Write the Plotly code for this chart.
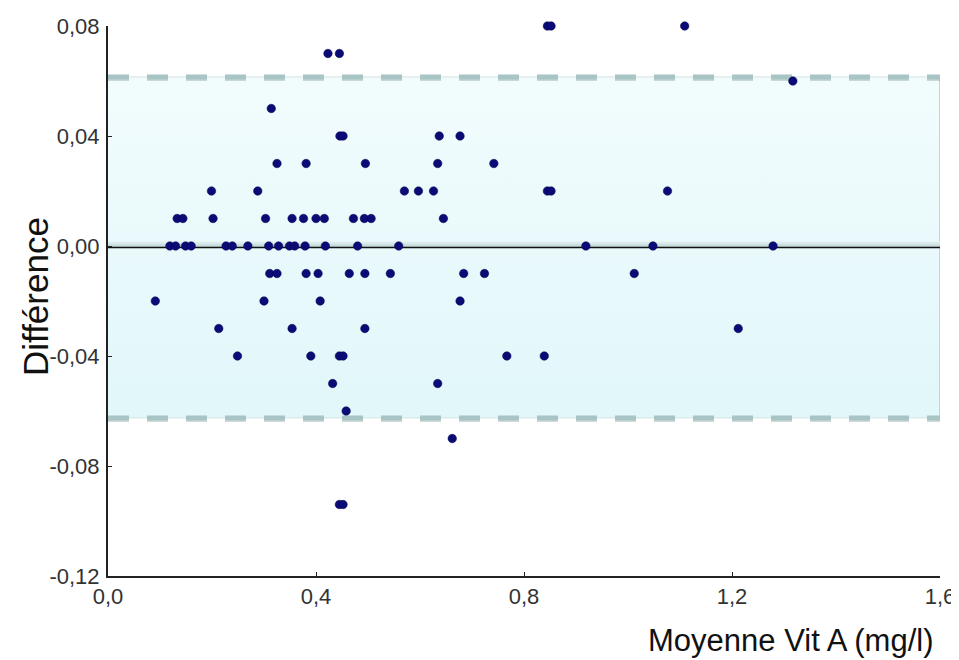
import plotly.graph_objects as go

# Bland-Altman data: mean (x) and difference (y)
mean_vals = [
    0.423, 0.445,                      # 0.07
    0.314,                             # 0.05
    0.446, 0.452,                      # 0.04
    0.325, 0.381, 0.495,               # 0.03
    0.199, 0.288, 0.570, 0.597,        # 0.02
    0.133, 0.144, 0.202, 0.303, 0.354, 0.376, 0.400, 0.416, 0.472, 0.493, 0.506,  # 0.01
    0.119, 0.130, 0.149, 0.160, 0.227, 0.239, 0.269, 0.309, 0.328, 0.349, 0.359,
    0.379, 0.418, 0.480, 0.559,        # 0.00
    0.845, 0.852, 1.109,               # 0.08
    0.637, 0.677,                      # 0.04
    0.634, 0.742,                      # 0.03
    0.626, 0.845, 0.852, 1.076,        # 0.02
    0.645,                             # 0.01
    0.919, 1.048, 1.279,               # 0.00
    1.317,                             # 0.06
    0.311, 0.325, 0.381, 0.404, 0.464, 0.494, 0.543, 0.684, 0.724, 1.012,  # -0.01
    0.091, 0.300, 0.408, 0.677,        # -0.02
    0.213, 0.354, 0.494, 1.212,        # -0.03
    0.249, 0.390, 0.445, 0.452, 0.767, 0.839,  # -0.04
    0.432, 0.634,                      # -0.05
    0.458,                             # -0.06
    0.662,                             # -0.07
    0.445, 0.452,                      # -0.094
]
diff_vals = (
    [0.07] * 2 + [0.05] + [0.04] * 2 + [0.03] * 3 + [0.02] * 4 + [0.01] * 11 + [0.0] * 15
    + [0.08] * 3 + [0.04] * 2 + [0.03] * 2 + [0.02] * 4 + [0.01] + [0.0] * 3 + [0.06]
    + [-0.01] * 10 + [-0.02] * 4 + [-0.03] * 4 + [-0.04] * 6 + [-0.05] * 2 + [-0.06]
    + [-0.07] + [-0.094] * 2
)

mean_diff = -0.0005
loa_upper = 0.0615
loa_lower = -0.0625

x_range = [0.0, 1.6]
y_range = [-0.12, 0.08]
x_ticks = [0.0, 0.4, 0.8, 1.2, 1.6]
x_tick_labels = ["0,0", "0,4", "0,8", "1,2", "1,6"]
y_ticks = [-0.12, -0.08, -0.04, 0.0, 0.04, 0.08]
y_tick_labels = ["-0,12", "-0,08", "-0,04", "0,00", "0,04", "0,08"]

FONT = "Liberation Sans, Arial"

fig = go.Figure()

# shaded agreement band
fig.add_trace(go.Scatter(
    x=[x_range[0], x_range[1], x_range[1], x_range[0], x_range[0]],
    y=[loa_lower, loa_lower, loa_upper, loa_upper, loa_lower],
    mode="lines", fill="toself",
    line=dict(width=0, color="rgba(0,0,0,0)"),
    fillgradient=dict(type="vertical",
                      colorscale=[[0, "#e1f7fa"], [1, "#f2fcfd"]]),
    hoverinfo="skip", showlegend=False,
))
# right border of band
fig.add_trace(go.Scatter(
    x=[x_range[1], x_range[1]], y=[loa_lower, loa_upper], mode="lines",
    line=dict(color="#c6d4d4", width=2), hoverinfo="skip", showlegend=False,
))
# halo over mean line
fig.add_trace(go.Scatter(
    x=[x_range[0], x_range[1], x_range[1], x_range[0], x_range[0]],
    y=[mean_diff, mean_diff, mean_diff + 0.0022, mean_diff + 0.0022, mean_diff],
    mode="lines", fill="toself", line=dict(width=0, color="rgba(0,0,0,0)"),
    fillgradient=dict(type="vertical",
                      colorscale=[[0, "#b9d2d2"], [1, "#e6f4f5"]]),
    hoverinfo="skip", showlegend=False,
))
# limits of agreement: shadow + thin light line + thick dashes
for lv in (loa_upper, loa_lower):
    fig.add_trace(go.Scatter(
        x=x_range, y=[lv - 0.0006, lv - 0.0006], mode="lines",
        line=dict(color="rgba(120,150,150,0.35)", width=5, dash="21px,18px"),
        hoverinfo="skip", showlegend=False,
    ))
    fig.add_trace(go.Scatter(
        x=x_range, y=[lv, lv], mode="lines",
        line=dict(color="#d2e4e4", width=1),
        hoverinfo="skip", showlegend=False,
    ))
    fig.add_trace(go.Scatter(
        x=x_range, y=[lv, lv], mode="lines",
        line=dict(color="#a8c4c4", width=5, dash="21px,18px"),
        hoverinfo="skip", showlegend=False,
    ))
# mean line
fig.add_trace(go.Scatter(
    x=x_range, y=[mean_diff, mean_diff], mode="lines",
    line=dict(color="#111111", width=1.5),
    hoverinfo="skip", showlegend=False,
))
# data points
fig.add_trace(go.Scatter(
    x=mean_vals, y=diff_vals, mode="markers",
    marker=dict(size=8.5, color="#0b0b78", line=dict(color="#05054a", width=0.5)),
    cliponaxis=False, showlegend=False,
))

fig.update_xaxes(
    range=x_range, tickvals=x_ticks, ticktext=x_tick_labels, automargin=False,
    showgrid=False, zeroline=False, showline=True, linecolor="#222222", linewidth=2,
    ticks="inside", ticklen=4, tickcolor="#222222",
    tickfont=dict(family=FONT, size=22, color="#333333"),
)
fig.update_yaxes(
    range=y_range, tickvals=y_ticks, ticktext=y_tick_labels, automargin=False,
    showgrid=False, zeroline=False, showline=True, linecolor="#222222", linewidth=2,
    ticks="inside", ticklen=4, tickcolor="#222222", ticklabelstandoff=2,
    tickfont=dict(family=FONT, size=22, color="#333333"),
)

fig.add_annotation(
    text="Moyenne Vit A (mg/l)", xref="paper", yref="paper",
    x=1.0, y=0, xanchor="right", yanchor="middle", xshift=-5, yshift=-64,
    showarrow=False, font=dict(family=FONT, size=31, color="#111111"),
)
fig.add_annotation(
    text="Différence", xref="paper", yref="paper",
    x=0, y=0.5, xanchor="center", yanchor="middle", xshift=-73, yshift=4,
    textangle=-90, showarrow=False,
    font=dict(family=FONT, size=35, color="#111111"),
)

# page body has an 8px margin, so the figure is sized/offset to compensate
fig.update_layout(
    width=951, height=652,
    margin=dict(l=100, r=19, t=18, b=84, autoexpand=False),
    paper_bgcolor="white", plot_bgcolor="white",
    showlegend=False,
)

fig.write_html("out.html")
